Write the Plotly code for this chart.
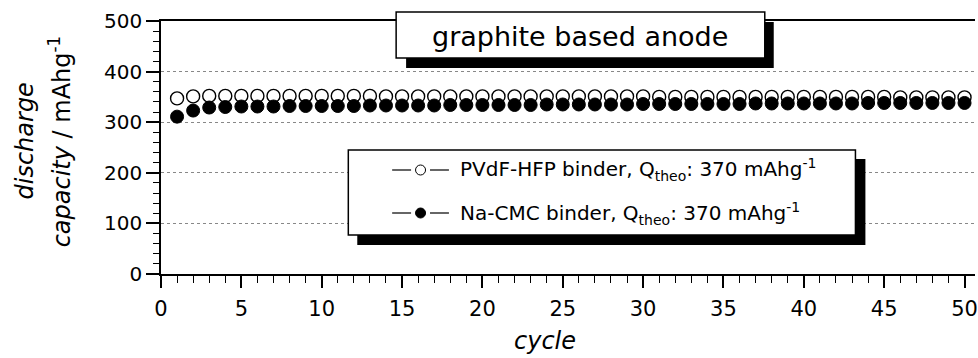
import plotly.graph_objects as go

# Discharge capacity per cycle for two binder systems
cycles = list(range(1, 51))
pvdf_hfp = [347, 351, 352, 352, 352, 352, 352, 352, 352, 352,
            352, 352, 352, 351, 351, 351, 351, 351, 351, 351,
            351, 351, 351, 351, 351, 351, 351, 351, 351, 351,
            350, 350, 350, 350, 350, 350, 350, 350, 350, 350,
            350, 350, 350, 350, 350, 349, 349, 349, 349, 349]
na_cmc = [311, 323, 329, 330, 331, 331, 331, 332, 332, 332,
          332, 332, 333, 333, 333, 333, 333, 334, 334, 334,
          334, 334, 334, 335, 335, 335, 335, 335, 335, 336,
          336, 336, 336, 336, 336, 336, 337, 337, 337, 337,
          337, 337, 337, 338, 338, 338, 338, 338, 338, 338]

series_names = ["PVdF-HFP binder", "Na-CMC binder"]
q_theo = 370
x_ticks = [0, 5, 10, 15, 20, 25, 30, 35, 40, 45, 50]
y_ticks = [0, 100, 200, 300, 400, 500]

W, H = 978, 358
L, R, T, B = 161, 0, 21, 84
PW, PH = W - L - R, H - T - B
FONT = "DejaVu Sans"


def px(x):
    return (x - L) / PW


def py(y):
    return (H - B - y) / PH


fig = go.Figure()
fig.add_trace(go.Scatter(
    x=cycles, y=pvdf_hfp, mode="markers", name=series_names[0],
    marker=dict(symbol="circle", size=13, color="white",
                line=dict(color="black", width=1.4)),
    showlegend=False))
fig.add_trace(go.Scatter(
    x=cycles, y=na_cmc, mode="markers", name=series_names[1],
    marker=dict(symbol="circle", size=13, color="black",
                line=dict(color="black", width=1)),
    showlegend=False))

shapes = []
annotations = []

# Title box with drop shadow
shapes.append(dict(type="rect", xref="paper", yref="paper",
                   x0=px(407), x1=px(776), y0=py(68), y1=py(22),
                   fillcolor="black", line=dict(width=0), layer="above"))
shapes.append(dict(type="rect", xref="paper", yref="paper",
                   x0=px(397), x1=px(767), y0=py(58), y1=py(12),
                   fillcolor="white", line=dict(color="black", width=1.5),
                   layer="above"))
annotations.append(dict(xref="paper", yref="paper", x=px(582), y=py(36),
                        text="graphite based anode", showarrow=False,
                        xanchor="center", yanchor="middle",
                        font=dict(family=FONT, size=27, color="black")))

# Legend box with drop shadow
shapes.append(dict(type="rect", xref="paper", yref="paper",
                   x0=px(358), x1=px(868), y0=py(245), y1=py(159),
                   fillcolor="black", line=dict(width=0), layer="above"))
shapes.append(dict(type="rect", xref="paper", yref="paper",
                   x0=px(349), x1=px(858), y0=py(235), y1=py(150),
                   fillcolor="white", line=dict(color="black", width=1.5),
                   layer="above"))

legend_rows = [170, 213]
legend_fill = ["white", "black"]
for name, row, fill in zip(series_names, legend_rows, legend_fill):
    for xa, xb in [(393, 412), (431, 450)]:
        shapes.append(dict(type="line", xref="paper", yref="paper",
                           x0=px(xa), x1=px(xb), y0=py(row), y1=py(row),
                           line=dict(color="black", width=1.2), layer="above"))
    shapes.append(dict(type="circle", xref="paper", yref="paper",
                       xsizemode="pixel", ysizemode="pixel",
                       xanchor=px(421.5), yanchor=py(row),
                       x0=-5, x1=5, y0=-5, y1=5,
                       fillcolor=fill, line=dict(color="black", width=1),
                       layer="above"))
    annotations.append(dict(
        xref="paper", yref="paper", x=px(459), y=py(row),
        text=f"{name}, Q<sub>theo</sub>: {q_theo} mAhg<sup>-1</sup>",
        showarrow=False, xanchor="left", yanchor="middle",
        font=dict(family=FONT, size=20, color="black")))

# Axis titles
annotations.append(dict(xref="paper", yref="paper", x=px(24), y=py(141),
                        text="<i>discharge</i>", textangle=-90, showarrow=False,
                        xanchor="center", yanchor="middle",
                        font=dict(family=FONT, size=24, color="black")))
annotations.append(dict(xref="paper", yref="paper", x=px(60), y=py(141),
                        text="<i>capacity</i> / mAhg<sup>-1</sup>",
                        textangle=-90, showarrow=False,
                        xanchor="center", yanchor="middle",
                        font=dict(family=FONT, size=24, color="black")))
annotations.append(dict(xref="paper", yref="paper", x=px(546), y=py(341),
                        text="<i>cycle</i>", showarrow=False,
                        xanchor="center", yanchor="middle",
                        font=dict(family=FONT, size=24, color="black")))

fig.update_layout(
    width=W, height=H,
    margin=dict(l=L, r=R, t=T, b=B),
    paper_bgcolor="white", plot_bgcolor="white",
    shapes=shapes, annotations=annotations,
    showlegend=False,
)
fig.update_xaxes(
    range=[0, PW / 16.13], tickvals=x_ticks,
    showline=True, linecolor="black", linewidth=1.5, mirror=True,
    ticks="outside", ticklen=12, tickwidth=1.5, tickcolor="black",
    minor=dict(dtick=1, ticklen=7, tickwidth=1.3, tickcolor="black",
               ticks="outside", showgrid=False),
    showgrid=False, zeroline=False, ticklabeloverflow="allow",
    ticklabelstandoff=3,
    tickfont=dict(family=FONT, size=21, color="black"),
)
fig.update_yaxes(
    range=[0, 500], tickvals=y_ticks,
    showline=True, linecolor="black", linewidth=1.5,
    ticks="outside", ticklen=13, tickwidth=1.5, tickcolor="black",
    minor=dict(dtick=20, ticklen=6, tickwidth=1.3, tickcolor="black",
               ticks="outside", showgrid=False),
    showgrid=True, gridcolor="#888888", gridwidth=1, griddash="dot",
    zeroline=False,
    tickfont=dict(family=FONT, size=20, color="black"),
)

fig.write_html("out.html")
